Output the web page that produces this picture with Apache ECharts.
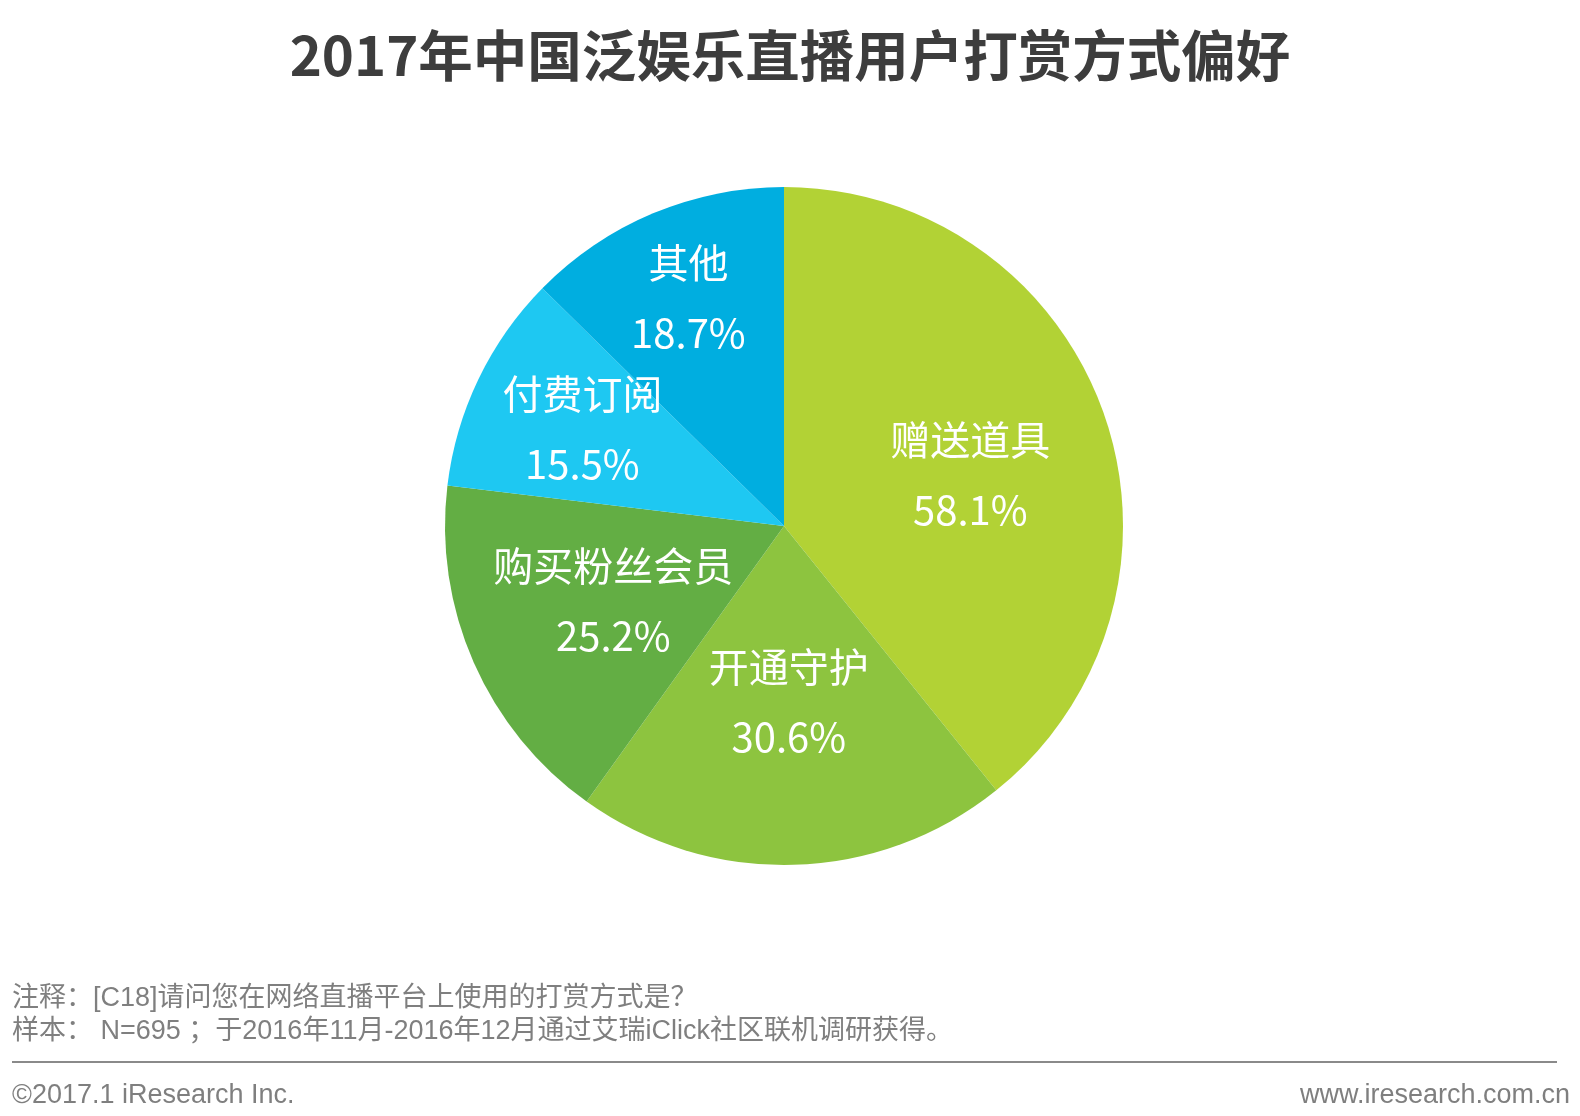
<!DOCTYPE html>
<html>
<head>
<meta charset="utf-8">
<script src="https://cdn.jsdelivr.net/npm/echarts@6/dist/echarts.min.js"></script>
<style>
html,body{margin:0;padding:0;background:#fff;}
#chart{width:1580px;height:1116px;}
</style>
</head>
<body>
<div id="chart"></div>
<script>
const titleText = '2017年中国泛娱乐直播用户打赏方式偏好';
const categories = ['赠送道具', '开通守护', '购买粉丝会员', '付费订阅', '其他'];
const values = [58.1, 30.6, 25.2, 15.5, 18.7];
const colors = ['#b2d235', '#8dc43f', '#63ae44', '#1ec8f2', '#00aee0'];
const labelRadialFactor = [0.57, 0.52, 0.55, 0.66, 0.73];
const labelAngleShiftDeg = [4, 0, 0, 0, 0];
const noteLines = ['注释：[C18]请问您在网络直播平台上使用的打赏方式是？', '样本： N=695 ；于2016年11月-2016年12月通过艾瑞iClick社区联机调研获得。'];
const copyright = '©2017.1 iResearch Inc.';
const website = 'www.iresearch.com.cn';

const CX = 784, CY = 526, R = 339;

// mid-angle of each slice (clockwise from 12 o'clock), from the data
const total = values.reduce((a, b) => a + b, 0);
const midAngles = [];
{ let acc = 0; values.forEach(v => { midAngles.push((acc + v / 2) / total * 2 * Math.PI); acc += v; }); }

const chart = echarts.init(document.getElementById('chart'), null, {renderer: 'canvas'});
const cjk = '"Noto Sans CJK SC", "Noto Sans", sans-serif';
const latin = '"Liberation Sans", Arial, "Noto Sans CJK SC", sans-serif';

chart.setOption({
  backgroundColor: '#ffffff',
  animation: false,
  title: [
    {text: titleText, left: 'center', top: 23,
     textStyle: {fontFamily: cjk, fontSize: 54.5, fontWeight: 'bold', color: '#3d3d3d'}},
    {text: noteLines.join('\n'), left: 7, top: 977,
     textStyle: {fontFamily: latin, fontSize: 27, fontWeight: 'normal', color: '#7f7f7f', lineHeight: 33}},
    {text: copyright, left: 7, top: 1077,
     textStyle: {fontFamily: latin, fontSize: 27, fontWeight: 'normal', color: '#7f7f7f'}},
    {text: website, right: 5, top: 1077,
     textStyle: {fontFamily: latin, fontSize: 27, fontWeight: 'normal', color: '#7f7f7f'}}
  ],
  graphic: [
    {type: 'line', shape: {x1: 12, y1: 1062, x2: 1557, y2: 1062},
     style: {stroke: '#8a8a8a', lineWidth: 2}}
  ],
  series: [{
    type: 'pie',
    center: [CX, CY],
    radius: [0, R],
    startAngle: 90,
    clockwise: true,
    data: categories.map((c, i) => ({name: c, value: values[i], itemStyle: {color: colors[i]}})),
    label: {
      show: true,
      position: 'inside',
      formatter: '{b}\n{c}%',
      color: '#ffffff',
      fontFamily: cjk,
      fontSize: 40,
      lineHeight: 70
    },
    labelLine: {show: false},
    emphasis: {disabled: true},
    labelLayout: function (p) {
      const i = p.dataIndex;
      const a = midAngles[i] + labelAngleShiftDeg[i] * Math.PI / 180;
      const d = labelRadialFactor[i] * R;
      return {x: CX + d * Math.sin(a), y: CY - d * Math.cos(a), align: 'center', verticalAlign: 'middle'};
    }
  }]
});
</script>
</body>
</html>
